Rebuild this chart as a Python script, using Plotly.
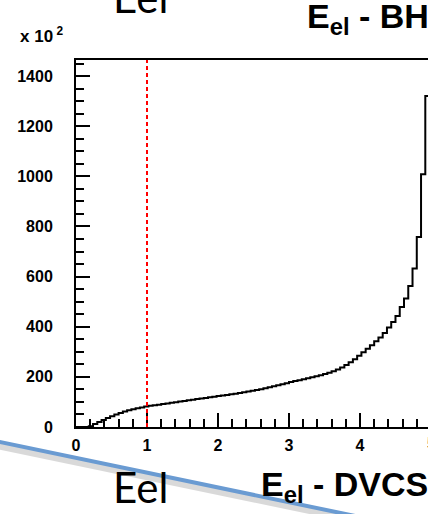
import plotly.graph_objects as go

# ---------------- data ----------------
bin_width = 0.06
bin_left_edges = [round(i * bin_width, 2) for i in range(84)]  # 0.00 ... 4.98
counts = [
    0, 0, 0, 3, 12, 20, 28, 36, 43, 50,          # 0.00 - 0.54
    56, 62, 67, 71, 75, 78, 82, 85, 87, 89,      # 0.60 - 1.14
    92, 94, 97, 99, 102, 104, 107, 109, 112, 114, # 1.20 - 1.74
    116, 119, 121, 124, 126, 128, 131, 133, 136, 139,  # 1.80 - 2.34
    142, 145, 148, 151, 155, 159, 163, 167, 171, 175,  # 2.40 - 2.94
    180, 183, 186, 190, 194, 198, 202, 206, 211, 216,  # 3.00 - 3.54
    222, 229, 237, 247, 258, 270, 284, 298, 312, 326,  # 3.60 - 4.14
    342, 357, 375, 397, 419, 443, 479, 513, 562, 632,  # 4.20 - 4.74
    758, 1008, 1320, 1320,                              # 4.80 - 4.98
]
x_ticks = [0, 1, 2, 3, 4, 5]
y_ticks = [0, 200, 400, 600, 800, 1000, 1200, 1400]
cut_value = 1.0
x_range = [0, 4.958]
y_range = [0, 1464]

# ---------------- geometry helpers (pixel -> paper) ----------------
W, H = 428, 514
L, R, T, B = 76, 428, 60, 427
def px(xp):
    return (xp - L) / (R - L)
def py(yp):
    return (B - yp) / (B - T)

fig = go.Figure()
fig.add_trace(go.Scatter(
    x=bin_left_edges, y=counts, mode="lines",
    line=dict(shape="hv", color="black", width=2),
    showlegend=False, hoverinfo="skip", cliponaxis=True,
))

tickfont = dict(family="Liberation Sans, Arial, sans-serif", size=16, color="black", weight="bold")

fig.update_layout(
    width=W, height=H,
    margin=dict(l=L, r=W - R, t=T, b=H - B, pad=0),
    paper_bgcolor="white", plot_bgcolor="white",
    font=dict(family="Liberation Sans, Arial, sans-serif", color="black"),
    xaxis=dict(
        range=x_range, tickvals=x_ticks, ticktext=[str(v) for v in x_ticks],
        ticks="inside", ticklen=14, tickwidth=1.5, tickcolor="black",
        minor=dict(dtick=0.2, ticks="inside", ticklen=8, tickwidth=1.5, tickcolor="black", showgrid=False),
        showline=True, linecolor="black", linewidth=2, mirror=True,
        showgrid=False, zeroline=False, tickfont=tickfont, ticklabelstandoff=3,
    ),
    yaxis=dict(
        range=y_range, tickvals=y_ticks, ticktext=[str(v) for v in y_ticks],
        ticks="inside", ticklen=14, tickwidth=1.5, tickcolor="black",
        minor=dict(dtick=50, ticks="inside", ticklen=8, tickwidth=1.5, tickcolor="black", showgrid=False),
        showline=True, linecolor="black", linewidth=2, mirror=False,
        showgrid=False, zeroline=False, tickfont=tickfont, ticklabelstandoff=18,
    ),
)

# red dashed cut line
fig.add_shape(type="line", xref="x", yref="paper", x0=cut_value, x1=cut_value, y0=0, y1=1,
              line=dict(color="red", width=2, dash="4px,3px"), layer="above")

# blue slide line with shadow
fig.add_shape(type="line", xref="paper", yref="paper",
              x0=px(-10), y0=py(444), x1=px(360), y1=py(521),
              line=dict(color="rgba(0,0,0,0.15)", width=7))
fig.add_shape(type="line", xref="paper", yref="paper",
              x0=px(-10), y0=py(440), x1=px(360), y1=py(517),
              line=dict(color="#6a9bd2", width=4))

# partially visible "5" tick label
fig.add_annotation(xref="paper", yref="paper", x=px(431), y=py(443), text="5", showarrow=False,
                   font=tickfont, xanchor="center", yanchor="middle")

# "x 10^2"
fig.add_annotation(xref="paper", yref="paper", x=px(18), y=py(35), text="x 10<sup> 2</sup>",
                   showarrow=False, xanchor="left", yanchor="middle",
                   font=dict(family="Liberation Sans, Arial, sans-serif", size=17, weight="bold", color="black"))

title_font = dict(family="Liberation Sans, Arial, sans-serif", size=34, weight="bold", color="black")
fig.add_annotation(xref="paper", yref="paper", x=px(305), y=py(18), text="E<sub>el</sub> - BH",
                   showarrow=False, xanchor="left", yanchor="middle", font=title_font)
fig.add_annotation(xref="paper", yref="paper", x=px(259), y=py(486), text="E<sub>el</sub> - DVCS",
                   showarrow=False, xanchor="left", yanchor="middle", font=title_font)

slide_font = dict(family="Lato, Open Sans, sans-serif", size=42, color="black")
fig.add_annotation(xref="paper", yref="paper", x=px(111), y=py(-3), text="Eel",
                   showarrow=False, xanchor="left", yanchor="middle", font=slide_font)
fig.add_annotation(xref="paper", yref="paper", x=px(111), y=py(487), text="Eel",
                   showarrow=False, xanchor="left", yanchor="middle", font=slide_font)

fig.write_html(
    "out.html",
    config={"displayModeBar": False},
    post_script="document.body.style.margin='0';document.body.style.overflow='hidden';"
                "document.documentElement.style.overflow='hidden';",
)
